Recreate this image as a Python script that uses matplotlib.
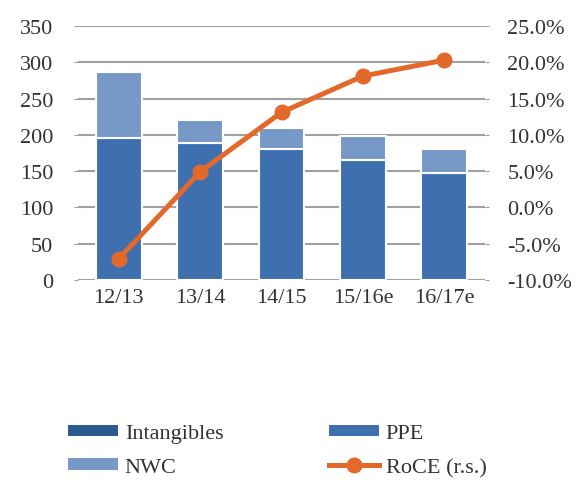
import matplotlib.pyplot as plt
from matplotlib.patches import Patch
from matplotlib.lines import Line2D
import numpy as np

years = ['12/13', '13/14', '14/15', '15/16e', '16/17e']
intangibles = [0, 0, 0, 0, 0]
ppe = [196, 189, 180, 165, 148]
nwc = [90, 32, 30, 33, 33]
roce = [-7.1, 4.9, 13.1, 18.1, 20.3]

c_int = '#2A5B8E'
c_ppe = '#3E70B0'
c_nwc = '#7799C8'
c_roce = '#E3692A'

plt.rcParams['font.family'] = ['Liberation Serif', 'DejaVu Serif']

fig = plt.figure(figsize=(5.88, 4.81), dpi=100)
ax = fig.add_axes([78 / 588, 200 / 481, 407 / 588, 254 / 481])

x = np.arange(len(years))
w = 0.565
b1 = np.array(intangibles)
b2 = b1 + np.array(ppe)
ax.bar(x, intangibles, w, color=c_int, edgecolor='white', linewidth=1.5, zorder=2)
ax.bar(x, ppe, w, bottom=b1, color=c_ppe, edgecolor='white', linewidth=1.5, zorder=2)
ax.bar(x, nwc, w, bottom=b2, color=c_nwc, edgecolor='white', linewidth=1.5, zorder=2)

ax.set_xlim(-0.5, len(years) - 0.5)
ax.set_ylim(0, 350)
ax.set_yticks(range(0, 351, 50))
ax.grid(axis='y', color='#A0A0A0', linewidth=1.5, zorder=0)
ax.set_axisbelow(True)
ax.set_xticks(x)
ax.set_xticklabels(years)
for s in ax.spines.values():
    s.set_visible(False)
ax.tick_params(axis='y', length=3, color='#A0A0A0', labelsize=16, pad=15, labelcolor='#333333')
ax.tick_params(axis='x', length=0, labelsize=16, pad=6, labelcolor='#333333')

ax2 = ax.twinx()
ax2.plot(x, roce, color=c_roce, linewidth=3.6, marker='o', markersize=10.5, zorder=5)
ax2.set_ylim(-10, 25)
ax2.set_yticks(range(-10, 26, 5))
ax2.set_yticklabels(['%.1f%%' % v for v in range(-10, 26, 5)])
for s in ax2.spines.values():
    s.set_visible(False)
ax2.tick_params(axis='y', length=3, color='#A0A0A0', labelsize=16, pad=13, labelcolor='#333333')

handles = [
    Patch(facecolor=c_int, label='Intangibles'),
    Patch(facecolor=c_nwc, label='NWC'),
    Patch(facecolor=c_ppe, label='PPE'),
    Line2D([], [], color=c_roce, linewidth=3.6, marker='o', markersize=10.5, label='RoCE (r.s.)'),
]
fig.legend(handles=handles, ncol=2, loc='upper left', bbox_to_anchor=(57 / 588, 1 - 414 / 481),
           frameon=False, fontsize=16, handlelength=2.25, handleheight=0.4, borderpad=0,
           columnspacing=4.75, labelspacing=0.67, handletextpad=0.3, labelcolor='#333333')

fig.savefig('out.png', dpi=100)
